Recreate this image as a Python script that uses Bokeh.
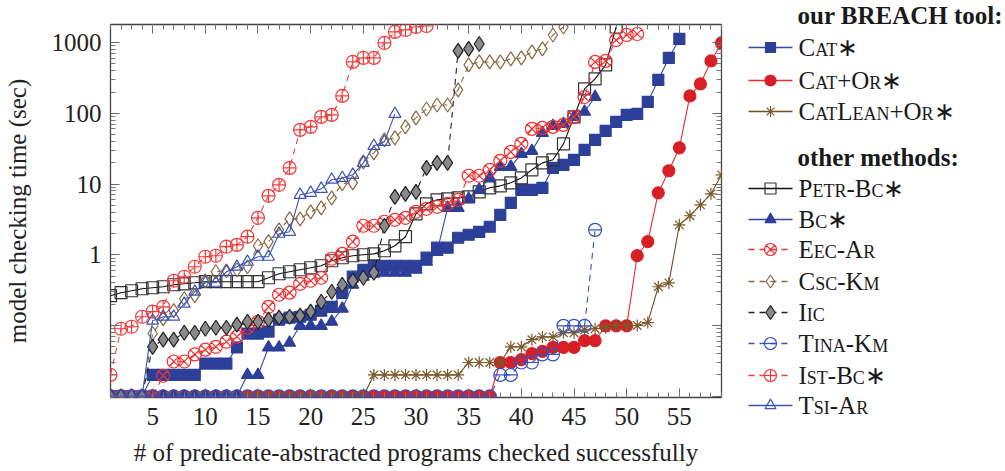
from bokeh.plotting import figure
from bokeh.models import Range1d, FixedTicker, CustomJSTickFormatter, LinearAxis, LogAxis
from bokeh.layouts import row, column
from bokeh.embed import file_html
from bokeh.resources import INLINE
from bokeh.core.properties import value

FONT = "Liberation Serif"

# ---------------- data (seconds, sorted per tool) ----------------
cat_star = [0.01, 0.01, 0.01, 0.01, 0.02, 0.02, 0.02, 0.02, 0.02, 0.029,
            0.029, 0.029, 0.049, 0.077, 0.077, 0.082, 0.121, 0.129, 0.133, 0.142,
            0.162, 0.184, 0.29, 0.49, 0.61, 0.70, 0.70, 0.70, 0.70, 0.70,
            0.91, 1.26, 1.26, 1.74, 1.92, 2.11, 2.49, 3.67, 5.43, 8.28,
            8.28, 8.84, 16.9, 18.7, 22.0, 30.4, 42.1, 56.4, 75.6, 94.9,
            98.1, 145, 296, 606, 1125]
cat_or = [0.01, 0.01, 0.01, 0.01, 0.01, 0.01, 0.01, 0.01, 0.01, 0.01,
          0.01, 0.01, 0.01, 0.01, 0.01, 0.01, 0.01, 0.01, 0.01, 0.01,
          0.01, 0.01, 0.01, 0.01, 0.01, 0.01, 0.01, 0.01, 0.01, 0.01,
          0.01, 0.01, 0.01, 0.01, 0.01, 0.01, 0.01, 0.030, 0.030, 0.033,
          0.040, 0.043, 0.049, 0.049, 0.049, 0.061, 0.061, 0.099, 0.099, 0.099,
          0.97, 1.53, 7.5, 15.4, 32.5, 176, 260, 550, 987]
catlean_or = [0.01, 0.01, 0.01, 0.01, 0.01, 0.01, 0.01, 0.01, 0.01, 0.01,
              0.01, 0.01, 0.01, 0.01, 0.01, 0.01, 0.01, 0.01, 0.01, 0.01,
              0.01, 0.01, 0.01, 0.01, 0.01, 0.02, 0.02, 0.02, 0.02, 0.02,
              0.02, 0.02, 0.02, 0.02, 0.030, 0.030, 0.030, 0.030, 0.050, 0.050,
              0.063, 0.069, 0.069, 0.079, 0.079, 0.087, 0.090, 0.093, 0.10, 0.10,
              0.10, 0.110, 0.353, 0.40, 2.65, 3.56, 5.08, 7.27, 13.5]
petr_bc = [0.264, 0.291, 0.310, 0.331, 0.342, 0.353, 0.377, 0.389, 0.402, 0.416,
           0.416, 0.416, 0.416, 0.416, 0.416, 0.473, 0.539, 0.575, 0.614, 0.655,
           0.70, 0.823, 0.907, 0.968, 1.0, 1.03, 1.14, 1.34, 1.80, 3.79,
           5.25, 5.98, 6.18, 6.38, 6.59, 7.76, 8.84, 9.43, 10.4, 12.2,
           15.9, 19.9, 22.0, 37.0, 89, 221, 306, 483, 1660]
bc_star = [0.01, 0.01, 0.01, 0.01, 0.01, 0.01, 0.01, 0.01, 0.01, 0.01,
           0.01, 0.01, 0.01, 0.020, 0.020, 0.049, 0.049, 0.057, 0.099, 0.099,
           0.099, 0.113, 0.173, 0.377, 0.489, 0.539, 0.557, 0.557, 0.557, 0.614,
           0.796, 1.10, 4.61, 4.61, 6.18, 8.28, 12.2, 17.5, 17.5, 26.7,
           29.4, 52.9, 66.4, 70.8, 89, 105, 170]
eec_ar = [0.01, 0.01, 0.01, 0.01, 0.01, 0.0195, 0.031, 0.031, 0.039, 0.0455,
          0.050, 0.059, 0.0695, 0.093, 0.113, 0.184, 0.272, 0.291, 0.389, 0.429,
          0.473, 0.878, 1.03, 1.53, 2.57, 2.57, 2.93, 3.12, 3.33, 4.05,
          4.46, 4.76, 5.25, 5.98, 13.1, 13.1, 15.9, 21.3, 28.5, 37.0,
          60.2, 62.2, 64.3, 68.6, 89, 170, 532, 550, 1088, 1280,
          1322]
csc_km = [0.01, 0.01, 0.01, 0.01, 0.077, 0.125, 0.162, 0.239, 0.264, 0.429,
          0.575, 0.594, 0.614, 0.677, 1.34, 1.53, 2.25, 3.22, 3.22, 4.05,
          4.61, 6.38, 10.1, 10.4, 20.6, 27.6, 42.1, 44.9, 64.3, 86.1,
          115, 131, 131, 214, 483, 532, 532, 532, 587, 606,
          737, 812, 1280, 1660]
iic = [0.01, 0.01, 0.01, 0.01, 0.050, 0.063, 0.063, 0.079, 0.079, 0.090,
       0.093, 0.093, 0.103, 0.113, 0.113, 0.121, 0.129, 0.133, 0.138, 0.157,
       0.217, 0.30, 0.377, 0.429, 0.473, 0.557, 2.57, 6.59, 7.27, 7.76,
       16.9, 19.9, 19.9, 761, 812, 955]
tina_km = [0.01, 0.01, 0.01, 0.01, 0.01, 0.01, 0.01, 0.01, 0.01, 0.01,
           0.01, 0.01, 0.01, 0.01, 0.01, 0.01, 0.01, 0.01, 0.01, 0.01,
           0.01, 0.01, 0.01, 0.01, 0.01, 0.01, 0.01, 0.01, 0.01, 0.01,
           0.01, 0.01, 0.01, 0.01, 0.01, 0.01, 0.01, 0.02, 0.02, 0.030,
           0.030, 0.039, 0.039, 0.099, 0.099, 0.099, 2.25]
ist_bc = [0.02, 0.090, 0.096, 0.133, 0.157, 0.184, 0.429, 0.489, 0.677, 0.937,
          0.968, 1.30, 1.38, 1.80, 3.33, 6.81, 9.74, 16.9, 58.3, 64.3,
          89, 94.9, 176, 532, 606, 606, 987, 1413, 1507, 1660,
          1715]
tsi_ar = [0.01, 0.01, 0.01, 0.01, 0.117, 0.133, 0.133, 0.203, 0.30, 0.402,
          0.402, 0.575, 0.677, 0.796, 0.937, 0.937, 1.98, 2.11, 7.04, 7.51,
          8.55, 11.5, 12.2, 13.5, 19.9, 34.6, 39.5, 98.1]

x_ticks = [5, 10, 15, 20, 25, 30, 35, 40, 45, 50, 55]
y_ticks = [0.01, 0.1, 1, 10, 100, 1000]

labels = ["Cat∗", "Cat+Or∗", "CatLean+Or∗", "Petr-Bc∗", "Bc∗", "Eec-Ar",
          "Csc-Km", "Iic", "Tina-Km", "Ist-Bc∗", "Tsi-Ar"]
datasets = [cat_star, cat_or, catlean_or, petr_bc, bc_star, eec_ar,
            csc_km, iic, tina_km, ist_bc, tsi_ar]

BLUE = "#2c3f99"
styles = [
    dict(lc="#3347a8", dash="solid", marker="square", size=11, fill=BLUE, mc=BLUE),
    dict(lc="#ee2a2a", dash="solid", marker="circle", size=12, fill="#d71f27", mc="#d71f27"),
    dict(lc="#6e4f24", dash="solid", marker="asterisk", size=12, fill=None, mc="#7a5a2b"),
    dict(lc="#111111", dash="solid", marker="square", size=12, fill=None, mc="#333333"),
    dict(lc="#3347a8", dash="solid", marker="triangle", size=12, fill=BLUE, mc=BLUE),
    dict(lc="#f03030", dash="6 5", marker="circle_x", size=13, fill=None, mc="#f03030"),
    dict(lc="#8a6840", dash="6 5", marker="diamond", size=14, fill=None, mc="#8a6840"),
    dict(lc="#222222", dash="6 5", marker="diamond", size=15, fill="#8a8a8a", mc="#222222"),
    dict(lc="#3552c0", dash="6 5", marker="circle", size=13, fill=None, mc="#3552c0", extra="dash"),
    dict(lc="#f03c3c", dash="6 5", marker="circle_cross", size=13, fill=None, mc="#f03c3c"),
    dict(lc="#3a55b5", dash="solid", marker="triangle", size=12, fill=None, mc="#3a55b5"),
]

# ---------------- main plot ----------------
p = figure(width=730, height=471, x_range=Range1d(1, 59), y_range=Range1d(0.0096, 1800),
           y_axis_type="log", output_backend="svg", toolbar_location=None,
           min_border_left=108, min_border_right=9, min_border_top=24, min_border_bottom=74,
           x_axis_label="# of predicate-abstracted programs checked successfully",
           y_axis_label="model checking time (sec)")
p.grid.visible = False
p.outline_line_color = "#444444"
p.outline_line_width = 1.3
p.background_fill_color = "white"
p.border_fill_color = "white"

xt = FixedTicker(ticks=x_ticks, minor_ticks=list(range(1, 60)))
ymin = [m * 10.0 ** e for e in range(-2, 4) for m in range(2, 10) if m * 10.0 ** e < 1800]
yt = FixedTicker(ticks=y_ticks, minor_ticks=ymin)
p.xaxis.ticker = xt
p.yaxis.ticker = yt
p.yaxis.formatter = CustomJSTickFormatter(code="return tick >= 1 ? tick.toFixed(0) : '';")

def style_axis(ax):
    ax.axis_line_color = None
    ax.major_tick_in = 9
    ax.major_tick_out = 0
    ax.minor_tick_in = 5
    ax.minor_tick_out = 0
    ax.major_tick_line_color = "#666666"
    ax.minor_tick_line_color = "#777777"
    ax.major_label_text_font = FONT
    ax.major_label_text_font_size = "25px"
    ax.major_label_text_color = "#222222"
    ax.axis_label_text_font = FONT
    ax.axis_label_text_font_size = "25px"
    ax.axis_label_text_font_style = "normal"
    ax.axis_label_text_color = "#222222"

for ax in p.xaxis + p.yaxis:
    style_axis(ax)
p.yaxis.major_label_standoff = 9
p.yaxis.axis_label_standoff = 18
p.xaxis.major_label_standoff = 10
p.xaxis.axis_label_standoff = 11

empty = CustomJSTickFormatter(code="return '';")
ax_r = LogAxis(ticker=yt, formatter=empty)
ax_t = LinearAxis(ticker=xt, formatter=empty)
for ax in (ax_r, ax_t):
    style_axis(ax)
    ax.major_label_text_font_size = "0px"
    ax.major_label_standoff = 0
p.add_layout(ax_r, "right")
p.add_layout(ax_t, "above")

for vals, st in zip(datasets, styles):
    xs = list(range(1, len(vals) + 1))
    p.line(xs, vals, line_color=st["lc"], line_width=1.1, line_dash=st["dash"])
    p.scatter(xs, vals, marker=st["marker"], size=st["size"], fill_color=st["fill"],
              line_color=st["mc"], line_width=1.2)
    if st.get("extra"):
        p.scatter(xs, vals, marker=st["extra"], size=st["size"], line_color=st["mc"], line_width=1.2)

# ---------------- legend (separate panels) ----------------
def legend_panel(h, small_caps):
    kw = dict(stylesheets=[":host { font-variant: small-caps; }"]) if small_caps else {}
    f = figure(width=275, height=h, x_range=Range1d(0, 275), y_range=Range1d(h, 0),
               output_backend="svg", toolbar_location=None, min_border=0,
               x_axis_location=None, y_axis_location=None, **kw)
    f.grid.visible = False
    f.outline_line_color = None
    f.background_fill_color = "white"
    f.border_fill_color = "white"
    return f

def heading(h, yy, txt):
    f = legend_panel(h, False)
    f.text(x=[67], y=[yy], text=[txt], text_font=value(FONT), text_font_size="25px",
           text_font_style="bold", text_baseline="middle", text_color="#1a1a1a")
    return f

def group(h, idxs, ys):
    f = legend_panel(h, True)
    for i, yy in zip(idxs, ys):
        st = styles[i]
        f.line([18, 62], [yy, yy], line_color=st["lc"], line_width=1.3, line_dash=st["dash"])
        f.scatter([40], [yy], marker=st["marker"], size=st["size"] - 1, fill_color=st["fill"],
                  line_color=st["mc"], line_width=1.2)
        if st.get("extra"):
            f.scatter([40], [yy], marker=st["extra"], size=st["size"] - 1, line_color=st["mc"], line_width=1.2)
        f.text(x=[68], y=[yy], text=[labels[i]], text_font=value(FONT), text_font_size="25px",
               text_baseline="middle", text_color="#1a1a1a")
    return f

h1 = heading(31, 15, "our BREACH tool:")
g1 = group(96, [0, 1, 2], [16, 49, 80])
h2 = heading(44, 30, "other methods:")
g2 = group(300, [3, 4, 5, 6, 7, 8, 9, 10], [17, 48, 78, 110, 141, 172, 204, 234])

layout = row(p, column(h1, g1, h2, g2, spacing=0), spacing=0)

open("out.html", "w").write(file_html(layout, INLINE))
